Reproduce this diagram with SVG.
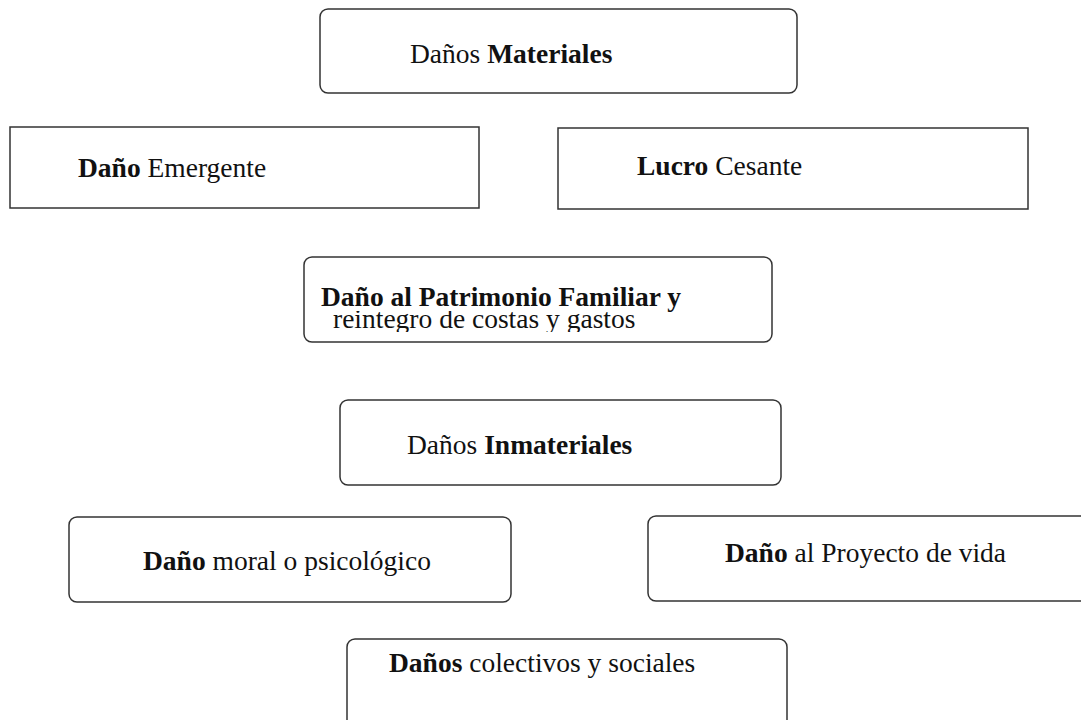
<svg xmlns="http://www.w3.org/2000/svg" width="1081" height="720" viewBox="0 0 1081 720">
  <style>
    .box { fill: #ffffff; stroke: #333333; stroke-width: 1.5; }
    .t { font-family: "Liberation Serif", "Times New Roman", serif; font-size: 27.5px; fill: #111111; }
    .b { font-weight: bold; }
  </style>
  <defs>
    <clipPath id="clipPat">
      <rect x="300" y="311" width="480" height="21"/>
    </clipPath>
  </defs>
  <rect width="1081" height="720" fill="#ffffff"/>
  <g id="connectors"></g>
  <g id="danos-materiales">
    <rect class="box" x="320" y="9" width="477" height="84" rx="8"/>
    <text class="t" x="410" y="63">Daños <tspan class="b">Materiales</tspan></text>
  </g>
  <g id="dano-emergente">
    <rect class="box" x="10" y="127" width="469" height="81"/>
    <text class="t" x="78" y="177"><tspan class="b">Daño</tspan> Emergente</text>
  </g>
  <g id="lucro-cesante">
    <rect class="box" x="558" y="128" width="470" height="81"/>
    <text class="t" x="637" y="175"><tspan class="b">Lucro</tspan> Cesante</text>
  </g>
  <g id="patrimonio-familiar">
    <rect class="box" x="304" y="257" width="468" height="85" rx="8"/>
    <text class="t b" x="321" y="306">Daño al Patrimonio Familiar  y</text>
    <text class="t" x="333" y="328" clip-path="url(#clipPat)">reintegro de costas y gastos</text>
  </g>
  <g id="danos-inmateriales">
    <rect class="box" x="340" y="400" width="441" height="85" rx="8"/>
    <text class="t" x="407" y="454">Daños <tspan class="b">Inmateriales</tspan></text>
  </g>
  <g id="dano-moral">
    <rect class="box" x="69" y="517" width="442" height="85" rx="8"/>
    <text class="t" x="143" y="570"><tspan class="b">Daño</tspan> moral o psicológico</text>
  </g>
  <g id="dano-proyecto">
    <rect class="box" x="648" y="516" width="450" height="85" rx="8"/>
    <text class="t" x="725" y="562"><tspan class="b">Daño</tspan> al Proyecto de vida</text>
  </g>
  <g id="danos-colectivos">
    <rect class="box" x="347" y="639" width="440" height="95" rx="8"/>
    <text class="t" x="389" y="672"><tspan class="b">Daños</tspan> colectivos y sociales</text>
  </g>
</svg>
